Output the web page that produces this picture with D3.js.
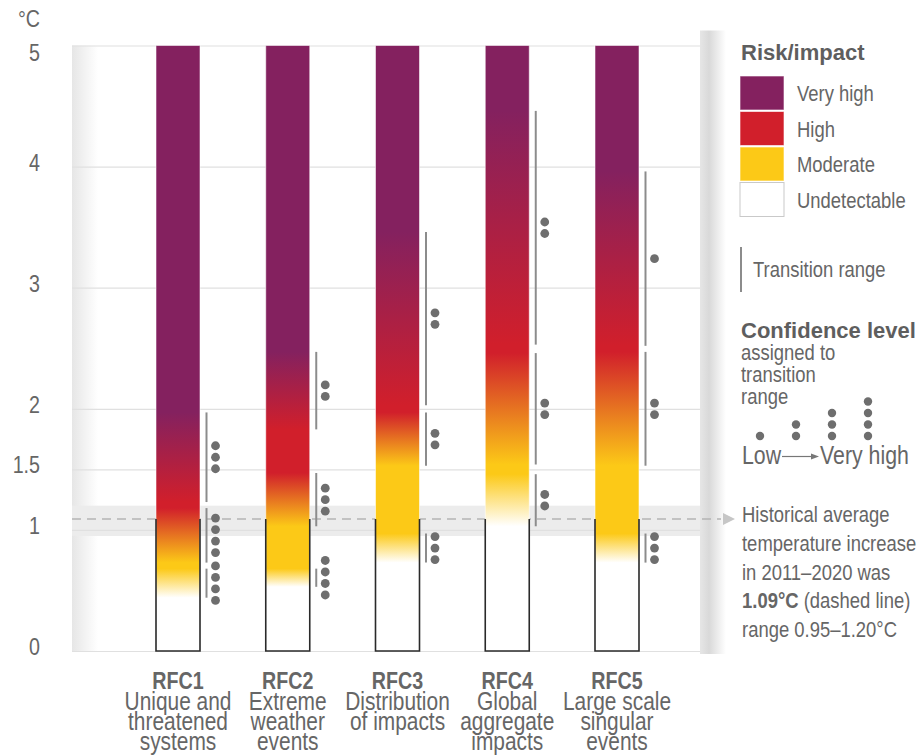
<!DOCTYPE html>
<html>
<head>
<meta charset="utf-8">
<script src="https://cdn.jsdelivr.net/npm/d3@7"></script>
<style>
  body { margin: 0; background: #fff; }
  svg text { font-family: "Liberation Sans", Arial, sans-serif; fill: #666; }
  svg text.head { font-weight: bold; fill: #5e5e5e; }
</style>
</head>
<body>
<svg id="chart" width="922" height="756"></svg>
<script>
// Reasons for concern
const rfcIds = ["RFC1", "RFC2", "RFC3", "RFC4", "RFC5"];
const rfcNames = [
  ["Unique and", "threatened", "systems"],
  ["Extreme", "weather", "events"],
  ["Distribution", "of impacts"],
  ["Global", "aggregate", "impacts"],
  ["Large scale", "singular", "events"]
];
// Transition ranges (°C): undetectable→moderate, moderate→high, high→very high
const toModerate = [[0.44, 0.68], [0.53, 0.68], [0.73, 0.97], [1.03, 1.46], [0.73, 0.97]];
const toHigh     = [[0.73, 1.18], [1.03, 1.47], [1.53, 1.97], [1.54, 2.46], [1.53, 2.47]];
const toVeryHigh = [[1.23, 1.97], [1.83, 2.47], [2.03, 3.46], [2.53, 4.46], [2.52, 3.96]];
// Confidence level (number of dots) assigned to each transition
const confModerate = [4, 4, 3, 2, 3];
const confHigh     = [4, 3, 2, 2, 2];
const confVeryHigh = [3, 2, 2, 2, 1];

const yTicks = [0, 1, 1.5, 2, 3, 4, 5];
const riskLevels = ["Undetectable", "Moderate", "High", "Very high"];
const riskColors = ["#ffffff", "#fcc917", "#d11f2b", "#84215f"];
const confLevels = [1, 2, 3, 4];
const historicalMean = 1.09;
const historicalRange = [0.95, 1.20];

const svg = d3.select("#chart");
const defs = svg.append("defs");

// Condensed lettering: horizontally squeezed sans
const NARROW = 0.82;
function narrow(parent, x, y, size) {
  return parent.append("text")
    .attr("transform", `translate(${x},${y}) scale(${NARROW},1)`)
    .attr("font-size", size);
}

const plotLeft = 72, plotRight = 700;
const barW = 44;
const x = d3.scalePoint().domain(rfcIds).range([178, 617]);
const y = d3.scaleLinear().domain([0, 5]).range([651, 45.5]);
const color = d3.scaleOrdinal().domain(riskLevels).range(riskColors);

// Edge shading of the plot panel
const lg = defs.append("linearGradient").attr("id", "leftShade");
lg.append("stop").attr("offset", 0).attr("stop-color", "#e6e6e6");
lg.append("stop").attr("offset", 1).attr("stop-color", "#ffffff");
const rg = defs.append("linearGradient").attr("id", "rightShade");
rg.append("stop").attr("offset", 0).attr("stop-color", "#e6e6e6");
rg.append("stop").attr("offset", 0.35).attr("stop-color", "#d9d9d9");
rg.append("stop").attr("offset", 1).attr("stop-color", "#ffffff");

svg.append("rect").attr("x", plotLeft).attr("y", y(5)).attr("width", 26)
  .attr("height", y(0) - y(5)).attr("fill", "url(#leftShade)");

// Observed warming band
svg.append("rect").attr("x", plotLeft).attr("width", plotRight - plotLeft)
  .attr("y", y(historicalRange[1])).attr("height", y(historicalRange[0]) - y(historicalRange[1]))
  .attr("fill", "#ececec");

// Grid + axis
const axis = svg.append("g").attr("transform", `translate(${plotLeft},0)`)
  .call(d3.axisLeft(y).tickValues(yTicks).tickSize(-(plotRight - plotLeft)).tickPadding(32)
    .tickFormat(d3.format("")));
axis.select(".domain").remove();
axis.selectAll(".tick line").attr("stroke", "#e0e0e0").attr("stroke-width", 1.2);
axis.selectAll(".tick text")
  .attr("font-size", 24).attr("fill", "#6a6a6a")
  .attr("dy", null).attr("x", null).attr("y", null)
  .attr("transform", d => `translate(-32,${Math.max(y(d) - 5, 52) - y(d) + 8.5}) scale(${NARROW},1)`);

narrow(svg, 40, 27, 24).attr("text-anchor", "end").attr("fill", "#6a6a6a").text("°C");

// Right edge strip
svg.append("rect").attr("x", plotRight).attr("y", y(5) - 15).attr("width", 26)
  .attr("height", y(0) - y(5) + 18).attr("fill", "url(#rightShade)");

// Dashed line + arrow for observed mean warming
const yh = y(historicalMean);
svg.append("line").attr("x1", plotLeft).attr("x2", 721).attr("y1", yh).attr("y2", yh)
  .attr("stroke", "#b4b4b4").attr("stroke-width", 1.5).attr("stroke-dasharray", "9,6");
svg.append("path").attr("d", `M723,${yh - 6}L735,${yh}L723,${yh + 6}Z`).attr("fill", "#c6c6c6");

// Burning-ember bars
rfcIds.forEach((id, i) => {
  const stops = [
    [0, riskLevels[0]],
    [toModerate[i][0], riskLevels[0]], [toModerate[i][1], riskLevels[1]],
    [toHigh[i][0], riskLevels[1]], [toHigh[i][1], riskLevels[2]],
    [toVeryHigh[i][0], riskLevels[2]], [toVeryHigh[i][1], riskLevels[3]],
    [5, riskLevels[3]]
  ];
  const g = defs.append("linearGradient").attr("id", "ember" + i)
    .attr("gradientUnits", "userSpaceOnUse")
    .attr("x1", 0).attr("x2", 0).attr("y1", y(0)).attr("y2", y(5));
  stops.forEach(([t, lvl]) => g.append("stop").attr("offset", t / 5).attr("stop-color", color(lvl)));
});

const bars = svg.append("g").selectAll("g").data(rfcIds).join("g");
bars.append("rect")
  .attr("x", d => x(d) - barW / 2).attr("y", y(5))
  .attr("width", barW).attr("height", y(0) - y(5))
  .attr("fill", (d, i) => `url(#ember${i})`)
  .attr("stroke", "rgba(255,255,255,0.55)").attr("stroke-width", 1);
bars.append("path")
  .attr("d", d => `M${x(d) - barW / 2},${yh}V${y(0)}H${x(d) + barW / 2}V${yh}`)
  .attr("fill", "none").attr("stroke", "#2a2a2a").attr("stroke-width", 1.6);

// Transition ranges with confidence dots
const transitions = [];
rfcIds.forEach((id, i) => {
  [[toModerate[i], confModerate[i]], [toHigh[i], confHigh[i]], [toVeryHigh[i], confVeryHigh[i]]]
    .forEach(([r, n]) => transitions.push({ id, lo: r[0], hi: r[1], n }));
});
const tg = svg.append("g").selectAll("g").data(transitions).join("g");
tg.append("line")
  .attr("x1", d => x(d.id) + barW / 2 + 6.5).attr("x2", d => x(d.id) + barW / 2 + 6.5)
  .attr("y1", d => y(d.lo)).attr("y2", d => y(d.hi))
  .attr("stroke", "#8c8c8c").attr("stroke-width", 2);
tg.each(function (d) {
  const mid = (y(d.lo) + y(d.hi)) / 2;
  d3.select(this).selectAll("circle").data(d3.range(d.n)).join("circle")
    .attr("cx", x(d.id) + barW / 2 + 15.5)
    .attr("cy", k => mid + (k - (d.n - 1) / 2) * 11.5)
    .attr("r", 4.4).attr("fill", "#6e6e6e");
});

// Category labels
rfcIds.forEach((id, i) => {
  const t = narrow(svg, x(id), 689, 25.5).attr("text-anchor", "middle");
  t.append("tspan").attr("x", 0).attr("y", 0).attr("font-weight", "bold").attr("font-size", 24)
    .attr("fill", "#666").text(id);
  rfcNames[i].forEach((s, k) => t.append("tspan").attr("x", 0).attr("y", 20.5 + k * 20.5).text(s));
});

// Legend: risk levels
svg.append("text").attr("class", "head").attr("x", 741).attr("y", 60).attr("font-size", 22).text("Risk/impact");
const legendLevels = riskLevels.slice().reverse();
const lgItem = svg.append("g").selectAll("g").data(legendLevels).join("g")
  .attr("transform", (d, k) => `translate(740,${76 + k * 35.5})`);
lgItem.append("rect").attr("width", 44).attr("height", 34)
  .attr("fill", d => color(d))
  .attr("stroke", d => d === "Undetectable" ? "#c9c9c9" : "rgba(255,255,255,0.6)").attr("stroke-width", 1);
lgItem.each(function (d) { narrow(d3.select(this), 57, 25, 22.5).text(d); });

svg.append("line").attr("x1", 741).attr("x2", 741).attr("y1", 247).attr("y2", 292)
  .attr("stroke", "#8c8c8c").attr("stroke-width", 2);
narrow(svg, 753, 277, 22.5).text("Transition range");

// Legend: confidence
svg.append("text").attr("class", "head").attr("x", 741).attr("y", 338).attr("font-size", 22).text("Confidence level");
["assigned to", "transition", "range"].forEach((t, k) => narrow(svg, 741, 360 + k * 22, 22.5).text(t));
const confX = d3.scalePoint().domain(confLevels).range([760, 868]);
const cg = svg.append("g").selectAll("g").data(confLevels).join("g");
cg.each(function (n) {
  d3.select(this).selectAll("circle").data(d3.range(n)).join("circle")
    .attr("cx", confX(n)).attr("cy", k => 436 - k * 11.5).attr("r", 4.2).attr("fill", "#6e6e6e");
});
narrow(svg, 742, 464, 26).text("Low");
svg.append("line").attr("x1", 782).attr("x2", 812).attr("y1", 456.5).attr("y2", 456.5)
  .attr("stroke", "#777").attr("stroke-width", 1.2);
svg.append("path").attr("d", "M811,453.5L819,456.5L811,459.5Z").attr("fill", "#777");
narrow(svg, 820, 464, 26).text("Very high");

// Legend: observed warming
const hist = [
  ["Historical average"],
  ["temperature increase"],
  ["in 2011–2020 was"],
  [`${historicalMean}°C`, " (dashed line)"],
  [`range ${historicalRange[0].toFixed(2)}–${historicalRange[1].toFixed(2)}°C`]
];
hist.forEach((parts, k) => {
  const t = narrow(svg, 742, 522 + k * 28.8, 22.5);
  parts.forEach((p, j) => t.append("tspan").attr("font-weight", parts.length > 1 && j === 0 ? "bold" : null).text(p));
});
</script>
</body>
</html>
